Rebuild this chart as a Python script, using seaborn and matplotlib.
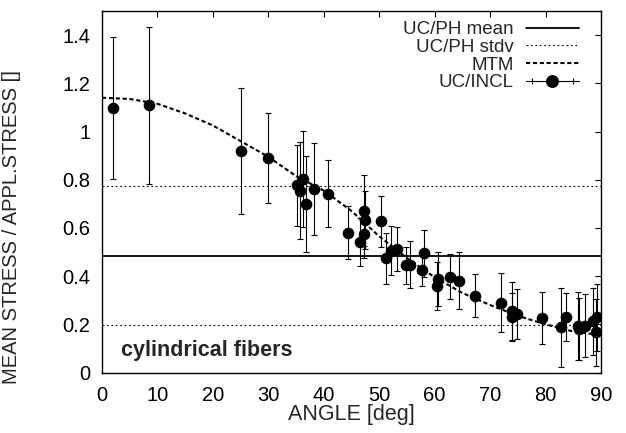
import numpy as np
import pandas as pd
import matplotlib
matplotlib.use("Agg")
import matplotlib.pyplot as plt
import seaborn as sns
from matplotlib.lines import Line2D
from matplotlib.legend_handler import HandlerLine2D, HandlerTuple
from matplotlib.ticker import FuncFormatter

# ---- data ----
incl_angle = [1.9, 8.5, 25.1, 29.9, 35.1, 36.3, 35.8, 36.8, 38.2, 40.7,
              44.4, 47.2, 47.4, 47.2, 46.5, 50.4, 51.3, 52.2, 53.2, 54.9,
              55.5, 58.1, 57.8, 60.6, 60.5, 62.7, 64.4, 67.3, 71.9, 73.9,
              73.9, 74.8, 79.4, 82.8, 83.7, 85.9, 86.1, 87.1, 88.5, 89.2, 89.1]
incl_stress = [1.098, 1.108, 0.920, 0.891, 0.776, 0.804, 0.755, 0.700, 0.762, 0.742,
               0.580, 0.672, 0.634, 0.575, 0.543, 0.627, 0.474, 0.506, 0.513, 0.444,
               0.448, 0.495, 0.427, 0.388, 0.360, 0.398, 0.381, 0.319, 0.289, 0.256,
               0.229, 0.243, 0.226, 0.187, 0.229, 0.194, 0.180, 0.194, 0.212, 0.229, 0.166]
incl_err = [0.295, 0.325, 0.262, 0.187, 0.170, 0.200, 0.200, 0.200, 0.190, 0.140,
            0.110, 0.146, 0.120, 0.100, 0.100, 0.105, 0.106, 0.100, 0.090, 0.075,
            0.097, 0.097, 0.070, 0.110, 0.100, 0.092, 0.118, 0.090, 0.123, 0.120,
            0.100, 0.105, 0.108, 0.164, 0.100, 0.142, 0.130, 0.130, 0.138, 0.140, 0.140]

mtm_angle = [0, 5, 10, 15, 20, 25, 30, 35, 40, 45, 50, 55, 60, 65, 70, 75, 80, 85, 90]
mtm_stress = [1.14, 1.135, 1.115, 1.075, 1.025, 0.96, 0.895, 0.815, 0.755, 0.67,
              0.565, 0.475, 0.395, 0.33, 0.28, 0.235, 0.20, 0.17, 0.155]

ph_mean = 0.485
ph_stdv_lines = [0.775, 0.197]

x_ticks = [0, 10, 20, 30, 40, 50, 60, 70, 80, 90]
y_ticks = [0, 0.2, 0.4, 0.6, 0.8, 1.0, 1.2, 1.4]

# ---- style ----
sns.set_style("white")
plt.rcParams["font.family"] = ["Liberation Sans", "DejaVu Sans"]
FS_TICK = 14.5
FS_LEG = 13.5

fig = plt.figure(figsize=(6.26, 4.33), dpi=100)
ax = fig.add_axes([102 / 626, (433 - 372.5) / 433, (601 - 102) / 626, (372.5 - 11) / 433])

df_inc = pd.DataFrame({"angle": incl_angle, "stress": incl_stress, "err": incl_err})
df_mtm = pd.DataFrame({"angle": mtm_angle, "stress": mtm_stress})

# horizontal reference lines
ax.axhline(ph_mean, color="black", lw=1.3, zorder=2)
for v in ph_stdv_lines:
    ax.axhline(v, color="black", lw=0.8, dashes=(1.5, 2.5), zorder=2)

# MTM curve
sns.lineplot(data=df_mtm, x="angle", y="stress", ax=ax, color="black", lw=1.5,
             dashes=False, zorder=3)
ax.lines[-1].set_dashes((2.0, 1.3))

# error bars + points
ax.errorbar(df_inc["angle"], df_inc["stress"], yerr=df_inc["err"], fmt="none",
            ecolor="black", elinewidth=0.8, capsize=2.0, capthick=0.8, zorder=4)
sns.scatterplot(data=df_inc, x="angle", y="stress", ax=ax, color="black", s=70,
                edgecolor="black", linewidth=0, zorder=5)

ax.set_xlim(0, 90)
ax.set_ylim(0, 1.5)
ax.set_xticks(x_ticks)
ax.set_yticks(y_ticks)
ax.yaxis.set_major_formatter(FuncFormatter(lambda v, p: "%g" % v))
ax.tick_params(direction="in", length=4.5, width=0.8, top=True, right=True,
               labelsize=FS_TICK, colors="black")
ax.tick_params(axis="x", pad=9.5)
ax.tick_params(axis="y", pad=8.5)
for s in ax.spines.values():
    s.set_visible(True)
    s.set_color("black")
    s.set_linewidth(1.0)

ax.set_xlabel("ANGLE [deg]", fontsize=15.5, labelpad=0)
ax.xaxis.set_label_coords(0.5, -0.088)
ax.set_ylabel("MEAN STRESS / APPL.STRESS []", fontsize=14.5, labelpad=0)
ax.yaxis.set_label_coords(-0.162, 0.401)

ax.text(0.038, 0.06, "cylindrical fibers", transform=ax.transAxes, fontsize=15.5,
        fontweight="bold", ha="left", va="center")

# legend (gnuplot style: label then sample)
h_mean = Line2D([], [], color="black", lw=1.3)
h_stdv = Line2D([], [], color="black", lw=0.8, dashes=(1.5, 2.5))
h_mtm = Line2D([], [], color="black", lw=1.5, dashes=(2.0, 1.3))
h_line = Line2D([], [], color="black", lw=0.8)
h_caps = Line2D([], [], color="black", marker="|", markersize=5, markeredgewidth=0.8, ls="none")
h_dot = Line2D([], [], color="black", marker="o", markersize=8.3, ls="none")
h_incl = (h_line, h_caps, h_dot)
leg = ax.legend([h_mean, h_stdv, h_mtm, h_incl],
                ["UC/PH mean", "UC/PH stdv", "MTM", "UC/INCL"],
                handler_map={h_caps: HandlerLine2D(numpoints=2),
                             h_dot: HandlerLine2D(numpoints=1),
                             h_incl: HandlerTuple(ndivide=1)},
                loc="upper right", bbox_to_anchor=(0.955, 0.972), frameon=False,
                markerfirst=False, fontsize=FS_LEG, handlelength=2.8, handletextpad=0.65,
                labelspacing=0.03, borderpad=0, borderaxespad=0, numpoints=1)

fig.savefig("out.png", dpi=100)
